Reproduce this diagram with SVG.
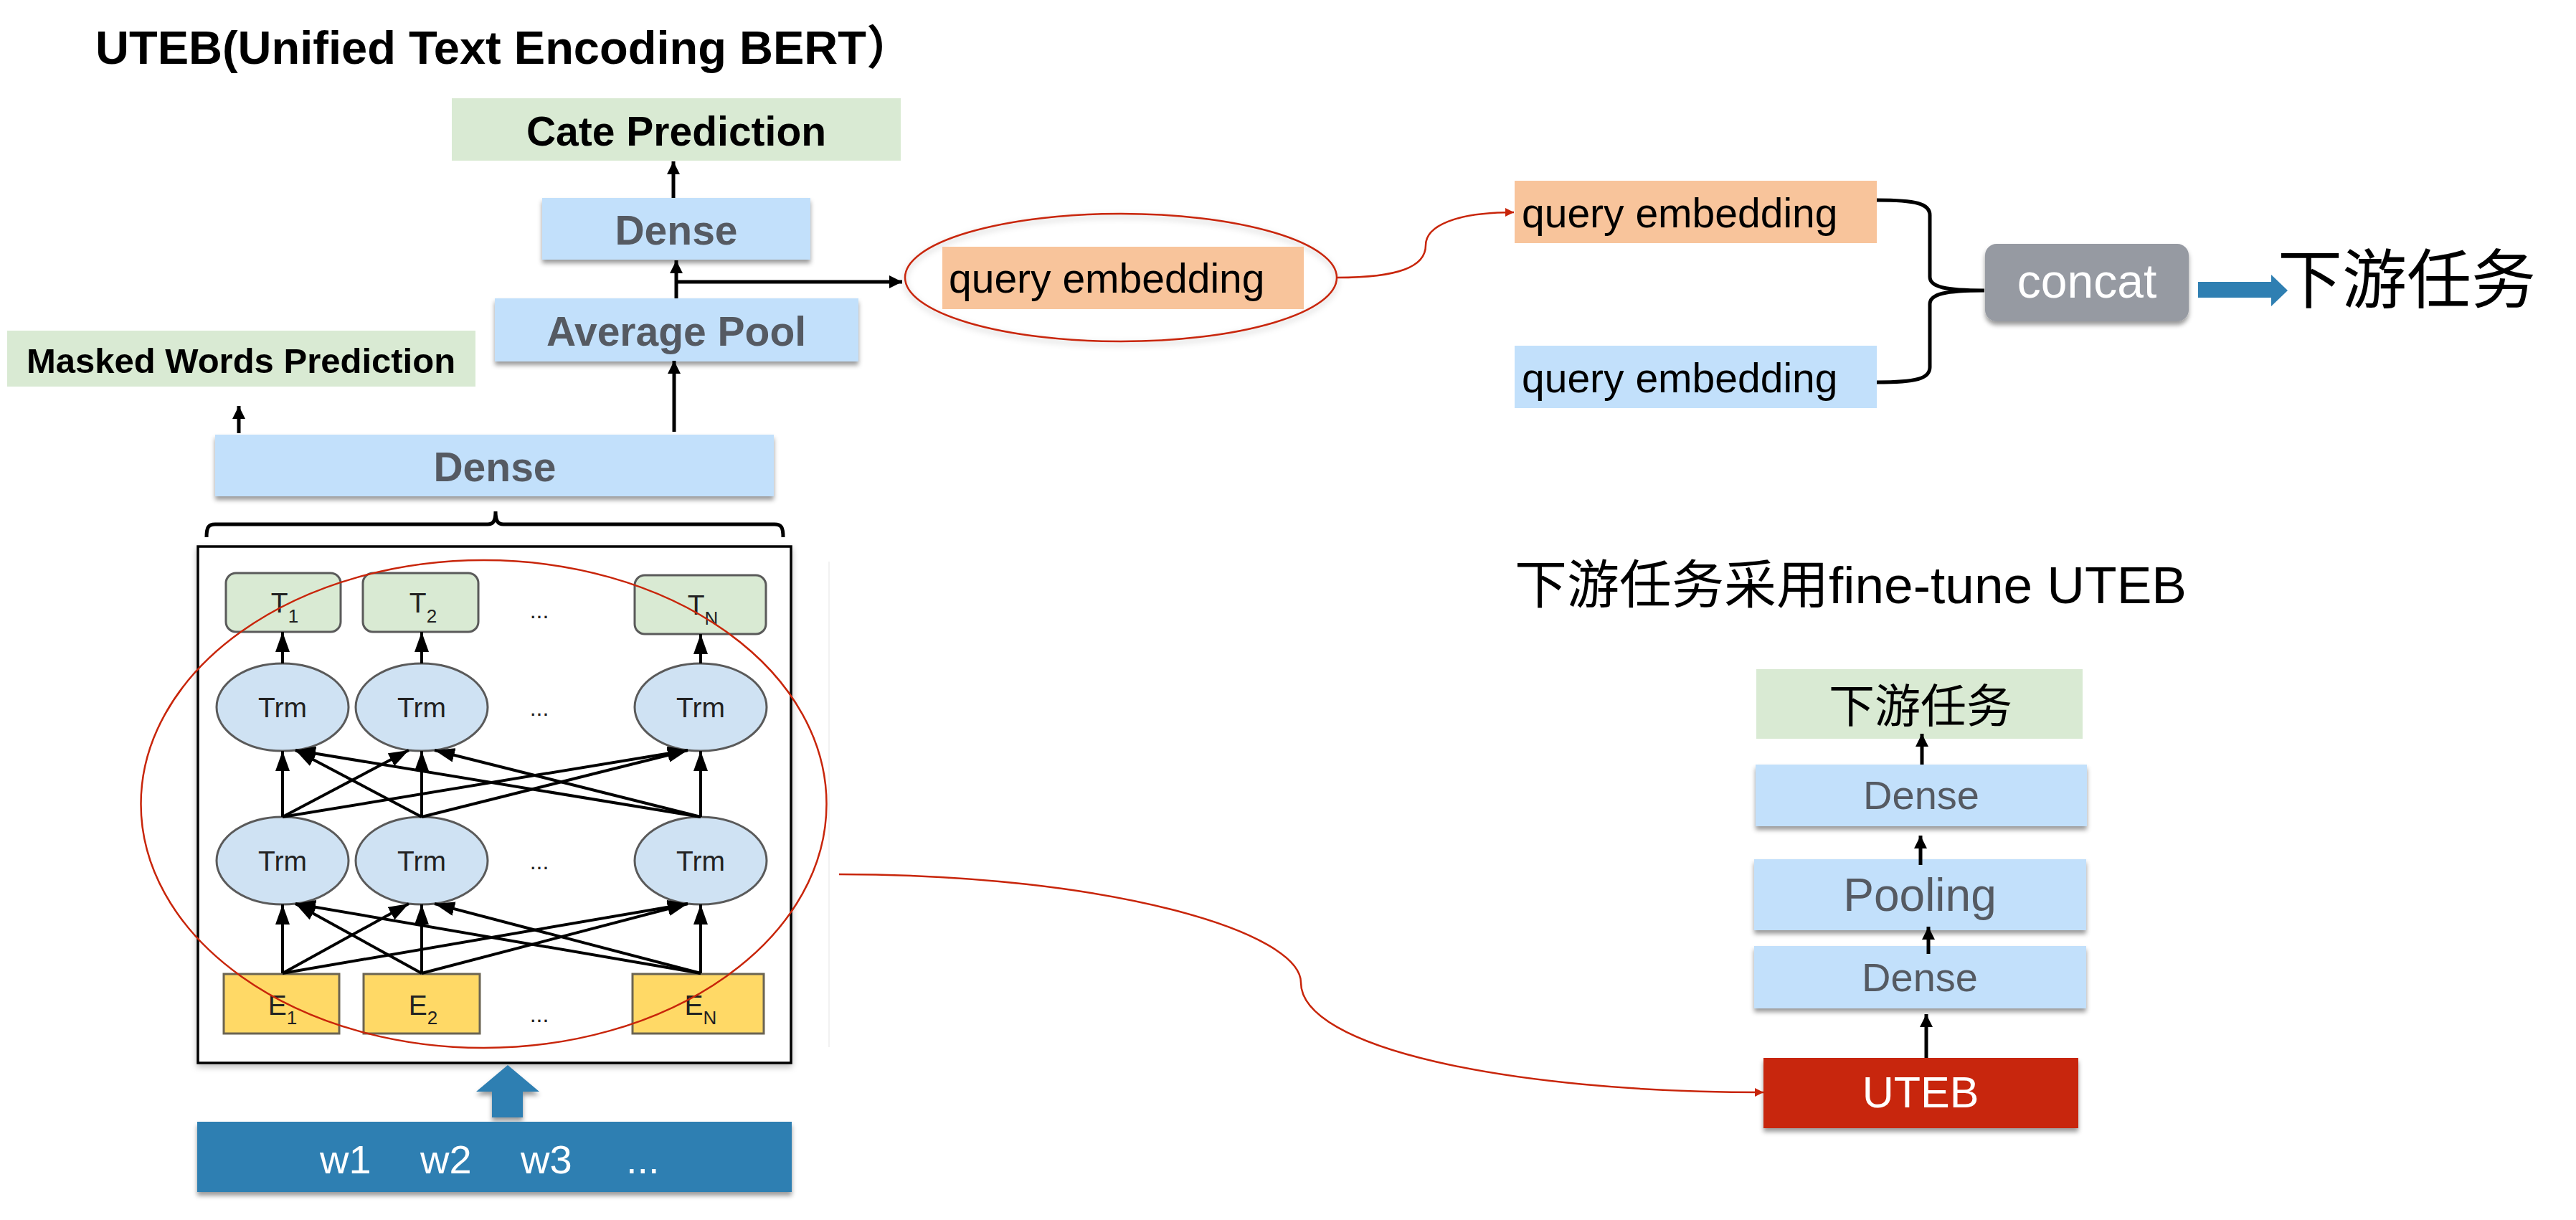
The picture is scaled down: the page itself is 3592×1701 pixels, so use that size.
<svg xmlns="http://www.w3.org/2000/svg" width="3592" height="1701" viewBox="0 0 3592 1701">
<defs>
<style>
.b{font-family:"Liberation Sans",Arial,"Noto Sans CJK SC",sans-serif;font-weight:bold}
.r{font-family:"Liberation Sans",Arial,"Noto Sans CJK SC",sans-serif}
.cjk{font-family:"Noto Sans CJK SC",sans-serif}
.blue{fill:#c2e0fb}
.green{fill:#d9ead3}
.orange{fill:#f8c49b}
.gt{fill:#555a62}
.ln{stroke:#000;stroke-width:5;fill:none}
.ln2{stroke:#000;stroke-width:4;fill:none}
.red{stroke:#c8250a;stroke-width:2.5;fill:none}
.tbox{fill:#d9ead3;stroke:#5a5a5a;stroke-width:3}
.trm{fill:#cfe2f3;stroke:#5a5a5a;stroke-width:3}
.ebox{fill:#ffd966;stroke:#6b6452;stroke-width:3}
.it{font-family:"Liberation Sans",Arial,sans-serif;fill:#222}
</style>
<filter id="sh" x="-5%" y="-20%" width="110%" height="150%">
<feDropShadow dx="0" dy="5" stdDeviation="3" flood-color="#000" flood-opacity="0.4"/>
</filter>
<filter id="sh2" x="-5%" y="-5%" width="110%" height="115%">
<feDropShadow dx="0" dy="4" stdDeviation="4" flood-color="#000" flood-opacity="0.25"/>
</filter>
<marker id="ah" markerUnits="userSpaceOnUse" markerWidth="18" markerHeight="18" refX="18" refY="9" orient="auto">
<path d="M0,0 L18,9 L0,18 z" fill="#000"/>
</marker>
<marker id="ahs" markerUnits="userSpaceOnUse" markerWidth="28" markerHeight="20" refX="28" refY="10" orient="auto">
<path d="M0,0 L28,10 L0,20 z" fill="#000"/>
</marker>
<marker id="ahr" markerUnits="userSpaceOnUse" markerWidth="12" markerHeight="12" refX="12" refY="6" orient="auto">
<path d="M0,0 L12,6 L0,12 z" fill="#c8250a"/>
</marker>
</defs>
<rect width="3592" height="1701" fill="#fff"/>

<g id="title">
<text class="b" x="133" y="89" font-size="65">UTEB(Unified Text Encoding BERT）</text>
</g>

<g id="cate-prediction">
<rect class="green" x="630" y="137" width="626" height="87"/>
<text class="b" x="943" y="203" font-size="57" text-anchor="middle">Cate Prediction</text>
</g>

<g id="dense-top">
<rect class="blue" x="756" y="276" width="374" height="86" filter="url(#sh)"/>
<text class="b gt" x="943" y="341" font-size="57" text-anchor="middle">Dense</text>
</g>

<g id="average-pool">
<rect class="blue" x="690" y="416" width="507" height="88" filter="url(#sh)"/>
<text class="b gt" x="943" y="482" font-size="57" text-anchor="middle">Average Pool</text>
</g>

<g id="masked-words">
<rect class="green" x="10" y="461" width="653" height="78"/>
<text class="b" x="336" y="520" font-size="49" text-anchor="middle">Masked Words Prediction</text>
</g>

<g id="dense-big">
<rect class="blue" x="300" y="606" width="779" height="86" filter="url(#sh)"/>
<text class="b gt" x="690" y="671" font-size="57" text-anchor="middle">Dense</text>
</g>

<g id="bert-block">
<rect x="276" y="762" width="827" height="720" fill="#fff" stroke="#000" stroke-width="3.5" filter="url(#sh2)"/>
<line x1="1156" y1="783" x2="1156" y2="1460" stroke="#ececec" stroke-width="1.5"/>
<g id="t-row">
<rect class="tbox" x="315" y="799" width="160" height="82" rx="14"/>
<rect class="tbox" x="506" y="799" width="161" height="82" rx="14"/>
<rect class="tbox" x="885" y="802" width="183" height="82" rx="14"/>
<text class="it" x="397" y="854" font-size="39" text-anchor="middle">T<tspan font-size="26" dy="14">1</tspan></text>
<text class="it" x="590" y="854" font-size="39" text-anchor="middle">T<tspan font-size="26" dy="14">2</tspan></text>
<text class="it" x="980" y="857" font-size="39" text-anchor="middle">T<tspan font-size="26" dy="14">N</tspan></text>
<text class="it" x="752" y="862" font-size="32" text-anchor="middle">...</text>
</g>
<g id="trm-upper">
<ellipse class="trm" cx="394" cy="986" rx="92" ry="61"/>
<ellipse class="trm" cx="588" cy="986" rx="92" ry="61"/>
<ellipse class="trm" cx="977" cy="986" rx="92" ry="61"/>
<text class="it" x="394" y="1000" font-size="39" text-anchor="middle">Trm</text>
<text class="it" x="588" y="1000" font-size="39" text-anchor="middle">Trm</text>
<text class="it" x="977" y="1000" font-size="39" text-anchor="middle">Trm</text>
<text class="it" x="752" y="998" font-size="32" text-anchor="middle">...</text>
</g>
<g id="trm-lower">
<ellipse class="trm" cx="394" cy="1200" rx="92" ry="61"/>
<ellipse class="trm" cx="588" cy="1200" rx="92" ry="61"/>
<ellipse class="trm" cx="977" cy="1200" rx="92" ry="61"/>
<text class="it" x="394" y="1214" font-size="39" text-anchor="middle">Trm</text>
<text class="it" x="588" y="1214" font-size="39" text-anchor="middle">Trm</text>
<text class="it" x="977" y="1214" font-size="39" text-anchor="middle">Trm</text>
<text class="it" x="752" y="1212" font-size="32" text-anchor="middle">...</text>
</g>
<g id="e-row">
<rect class="ebox" x="312" y="1358" width="161" height="83"/>
<rect class="ebox" x="507" y="1358" width="162" height="83"/>
<rect class="ebox" x="882" y="1358" width="183" height="83"/>
<text class="it" x="394" y="1415" font-size="39" text-anchor="middle">E<tspan font-size="26" dy="13">1</tspan></text>
<text class="it" x="590" y="1415" font-size="39" text-anchor="middle">E<tspan font-size="26" dy="13">2</tspan></text>
<text class="it" x="977" y="1415" font-size="39" text-anchor="middle">E<tspan font-size="26" dy="13">N</tspan></text>
<text class="it" x="752" y="1425" font-size="32" text-anchor="middle">...</text>
</g>
<g id="bert-edges">
<line class="ln2" x1="394" y1="925" x2="394" y2="881" marker-end="url(#ahs)"/>
<line class="ln2" x1="588" y1="925" x2="588" y2="881" marker-end="url(#ahs)"/>
<line class="ln2" x1="977" y1="925" x2="977" y2="884" marker-end="url(#ahs)"/>

<line class="ln2" x1="394" y1="1139" x2="394" y2="1047" marker-end="url(#ahs)"/>
<line class="ln2" x1="394" y1="1139" x2="570" y2="1046" marker-end="url(#ahs)"/>
<line class="ln2" x1="394" y1="1139" x2="959" y2="1046" marker-end="url(#ahs)"/>
<line class="ln2" x1="588" y1="1139" x2="412" y2="1046" marker-end="url(#ahs)"/>
<line class="ln2" x1="588" y1="1139" x2="588" y2="1047" marker-end="url(#ahs)"/>
<line class="ln2" x1="588" y1="1139" x2="959" y2="1046" marker-end="url(#ahs)"/>
<line class="ln2" x1="977" y1="1139" x2="412" y2="1046" marker-end="url(#ahs)"/>
<line class="ln2" x1="977" y1="1139" x2="606" y2="1046" marker-end="url(#ahs)"/>
<line class="ln2" x1="977" y1="1139" x2="977" y2="1047" marker-end="url(#ahs)"/>

<line class="ln2" x1="394" y1="1357" x2="394" y2="1261" marker-end="url(#ahs)"/>
<line class="ln2" x1="394" y1="1357" x2="570" y2="1260" marker-end="url(#ahs)"/>
<line class="ln2" x1="394" y1="1357" x2="959" y2="1260" marker-end="url(#ahs)"/>
<line class="ln2" x1="588" y1="1357" x2="412" y2="1260" marker-end="url(#ahs)"/>
<line class="ln2" x1="588" y1="1357" x2="588" y2="1261" marker-end="url(#ahs)"/>
<line class="ln2" x1="588" y1="1357" x2="959" y2="1260" marker-end="url(#ahs)"/>
<line class="ln2" x1="977" y1="1357" x2="412" y2="1260" marker-end="url(#ahs)"/>
<line class="ln2" x1="977" y1="1357" x2="606" y2="1260" marker-end="url(#ahs)"/>
<line class="ln2" x1="977" y1="1357" x2="977" y2="1261" marker-end="url(#ahs)"/>
</g>
<ellipse class="red" cx="674.5" cy="1121" rx="478" ry="340"/>
</g>

<g id="input-words">
<polygon points="686,1558 686,1522 664,1522 708,1485 752,1522 729,1522 729,1558" fill="#2f7fb2" filter="url(#sh)"/>
<rect x="275" y="1564" width="829" height="98" fill="#2f7fb2" filter="url(#sh)"/>
<text class="r" y="1636" font-size="56" fill="#fff"><tspan x="446">w1</tspan> <tspan x="586">w2</tspan> <tspan x="726">w3</tspan> <tspan x="873">...</tspan></text>
</g>

<g id="query-embedding-left">
<ellipse class="red" cx="1563" cy="387" rx="301" ry="89" filter="url(#sh2)"/>
<rect class="orange" x="1314" y="344" width="504" height="87"/>
<text class="r" x="1323" y="408" font-size="57">query embedding</text>
</g>

<g id="query-embedding-a">
<rect class="orange" x="2112" y="252" width="505" height="87"/>
<text class="r" x="2122" y="317" font-size="57">query embedding</text>
</g>

<g id="query-embedding-b">
<rect class="blue" x="2112" y="482" width="505" height="87"/>
<text class="r" x="2122" y="547" font-size="57">query embedding</text>
</g>

<g id="concat">
<rect x="2768" y="340" width="284" height="108" rx="16" fill="#969aa2" filter="url(#sh)"/>
<text class="r" x="2910" y="415" font-size="66" fill="#fff" text-anchor="middle">concat</text>
</g>

<g id="downstream-task">
<text class="cjk" x="3176" y="422" font-size="90">下游任务</text>
</g>

<g id="finetune-label">
<text class="r" x="2112" y="841" font-size="73">下游任务采用fine-tune UTEB</text>
</g>

<g id="ft-task">
<rect class="green" x="2449" y="933" width="455" height="97"/>
<text class="cjk" x="2678" y="1007" font-size="64" text-anchor="middle">下游任务</text>
</g>

<g id="ft-dense-top">
<rect class="blue" x="2448" y="1066" width="462" height="86" filter="url(#sh)"/>
<text class="r gt" x="2679" y="1128" font-size="56" text-anchor="middle">Dense</text>
</g>

<g id="ft-pooling">
<rect class="blue" x="2446" y="1198" width="463" height="99" filter="url(#sh)"/>
<text class="r gt" x="2677" y="1270" font-size="64" text-anchor="middle">Pooling</text>
</g>

<g id="ft-dense-bottom">
<rect class="blue" x="2446" y="1319" width="463" height="87" filter="url(#sh)"/>
<text class="r gt" x="2677" y="1382" font-size="56" text-anchor="middle">Dense</text>
</g>

<g id="ft-uteb">
<rect x="2459" y="1475" width="439" height="98" fill="#c8250a" filter="url(#sh)"/>
<text class="r" x="2678" y="1544" font-size="61" fill="#fff" text-anchor="middle">UTEB</text>
</g>

<g id="connectors">
<line class="ln" x1="939" y1="276" x2="939" y2="225" marker-end="url(#ah)"/>
<line class="ln" x1="943" y1="416" x2="943" y2="363" marker-end="url(#ah)"/>
<line class="ln" x1="941" y1="393" x2="1258" y2="393" marker-end="url(#ah)"/>
<line class="ln" x1="940" y1="602" x2="940" y2="503" marker-end="url(#ah)"/>
<line class="ln" x1="333" y1="604" x2="333" y2="566" marker-end="url(#ah)"/>
<path class="ln" stroke-width="4" d="M288,749 C288,736 290,731 300,731 L680,731 C688,731 691,726 691,713 C691,726 694,731 702,731 L1080,731 C1090,731 1092,736 1092,749"/>
<path class="ln" stroke-width="4.5" d="M2617,279 C2672,279 2691,284 2691,300 L2691,386 C2691,400 2712,405 2767,405 C2712,405 2691,410 2691,424 L2691,512 C2691,528 2672,533 2617,533"/>
<polygon points="3065,393 3167,393 3167,383 3190,405 3167,427 3167,415 3065,415" fill="#2f7fb2"/>
<path class="red" d="M1865,387 C1950,387 1988,372 1988,342 C1988,315 2030,296 2111,296" marker-end="url(#ahr)"/>
<path class="red" stroke-width="3" d="M1170,1219 C1550,1219 1814,1300 1814,1370 C1814,1460 2100,1523 2459,1523" marker-end="url(#ahr)"/>
<line class="ln" x1="2680" y1="1066" x2="2680" y2="1023" marker-end="url(#ah)"/>
<line class="ln" x1="2678" y1="1206" x2="2678" y2="1165" marker-end="url(#ah)"/>
<line class="ln" x1="2689" y1="1330" x2="2689" y2="1292" marker-end="url(#ah)"/>
<line class="ln" x1="2686" y1="1475" x2="2686" y2="1414" marker-end="url(#ah)"/>
</g>
</svg>
